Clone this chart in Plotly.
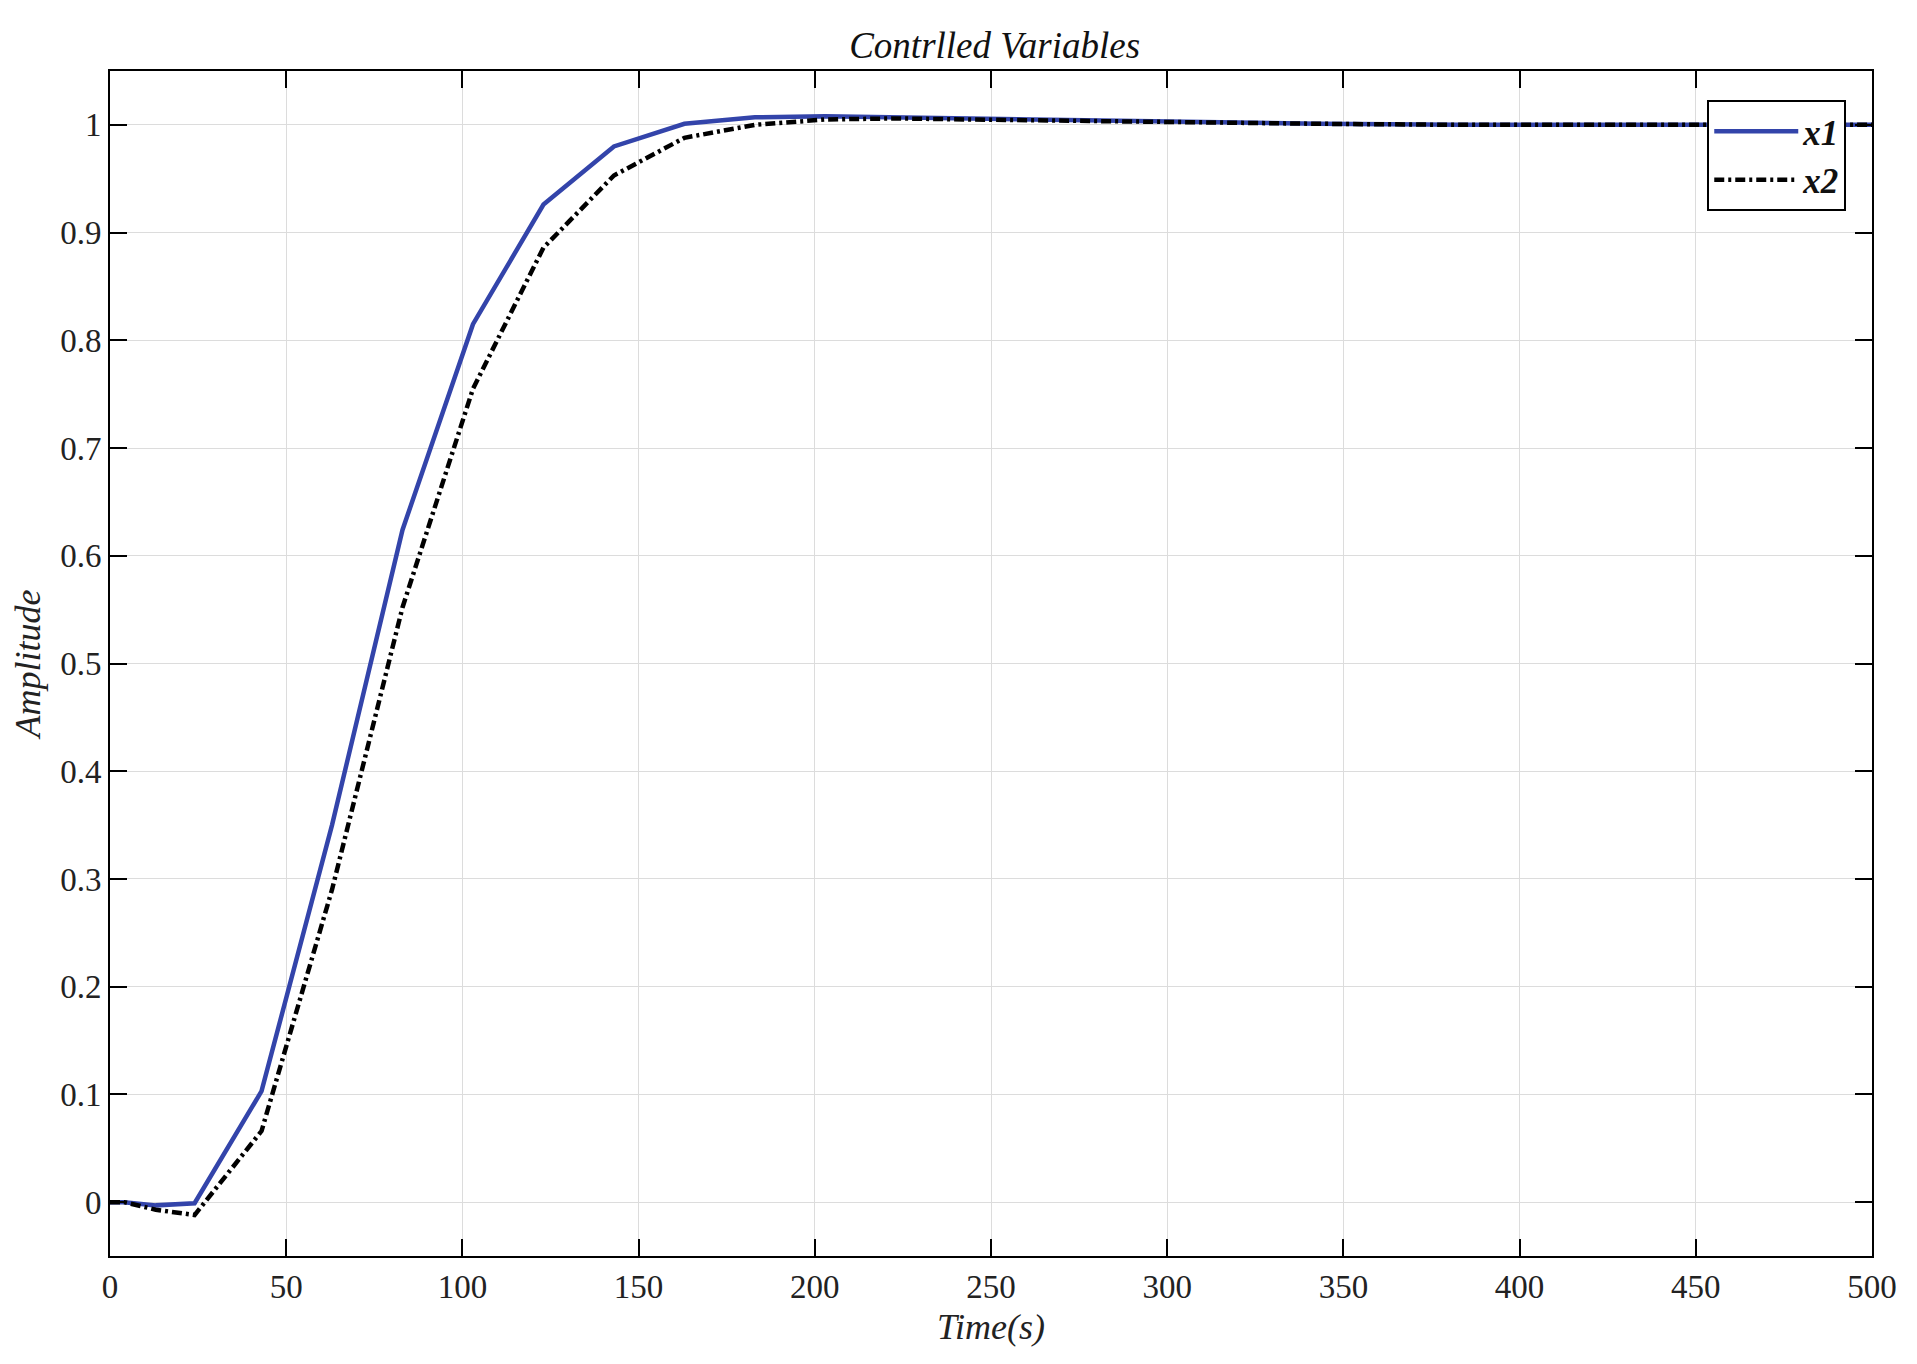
import plotly.graph_objects as go

t = [0, 4, 13, 24, 43, 63, 83, 103, 123, 143, 163, 183, 203, 223, 243, 263, 283, 303, 343, 383, 423, 463, 500]
x1 = [0, 0, -0.003, -0.001, 0.103, 0.35, 0.624, 0.815, 0.926, 0.980, 1.001, 1.007, 1.008, 1.007,
      1.005, 1.004, 1.003, 1.002, 1.001, 1.0, 1.0, 1.0, 1.0]
x2 = [0, 0, -0.007, -0.012, 0.066, 0.29, 0.552, 0.755, 0.886, 0.953, 0.988, 1.000, 1.005, 1.006,
      1.005, 1.004, 1.003, 1.002, 1.001, 1.0, 1.0, 1.0, 1.0]

xticks = [0, 50, 100, 150, 200, 250, 300, 350, 400, 450, 500]
yticks = [0, 0.1, 0.2, 0.3, 0.4, 0.5, 0.6, 0.7, 0.8, 0.9, 1]
ylabels = ["0", "0.1", "0.2", "0.3", "0.4", "0.5", "0.6", "0.7", "0.8", "0.9", "1"]

serif = "Liberation Serif, Times New Roman, serif"

fig = go.Figure()
fig.add_trace(go.Scatter(x=t, y=x1, mode="lines", name="<b><i>x1</i></b>",
                         line=dict(color="#3344AA", width=4.5)))
fig.add_trace(go.Scatter(x=t, y=x2, mode="lines", name="<b><i>x2</i></b>",
                         line=dict(color="black", width=4.5, dash="10px,4px,3px,4px")))

axis_common = dict(showline=True, linecolor="black", linewidth=2, mirror="ticks",
                   ticks="inside", ticklen=17, tickwidth=2, tickcolor="black",
                   showgrid=True, gridcolor="#DCDCDC", gridwidth=1, zeroline=False,
                   tickfont=dict(family=serif, size=33, color="#222"))

fig.update_xaxes(range=[0, 500], tickvals=xticks,
                 title=dict(text="<i>Time(s)</i>", font=dict(family=serif, size=36, color="#222"), standoff=10),
                 **axis_common)
fig.update_yaxes(range=[-0.05, 1.05], tickvals=yticks, ticktext=ylabels,
                 title=dict(text="<i>Amplitude</i>", font=dict(family=serif, size=36, color="#222"), standoff=12),
                 **axis_common)

fig.update_layout(
    width=1901, height=1348,
    margin=dict(l=102, r=35, t=63, b=100),
    plot_bgcolor="white", paper_bgcolor="white",
    title=dict(text="<i>Contrlled Variables</i>", x=0.519, xanchor="center",
               y=1 - 37 / 1348, yanchor="middle", yref="container",
               font=dict(family=serif, size=37, color="#111")),
    legend=dict(x=0.9065, y=0.9755, xanchor="left", yanchor="top",
                bgcolor="white", bordercolor="black", borderwidth=2,
                font=dict(family=serif, size=35, color="#111"),
                itemwidth=84, tracegroupgap=0),
)

fig.write_html("out.html")
